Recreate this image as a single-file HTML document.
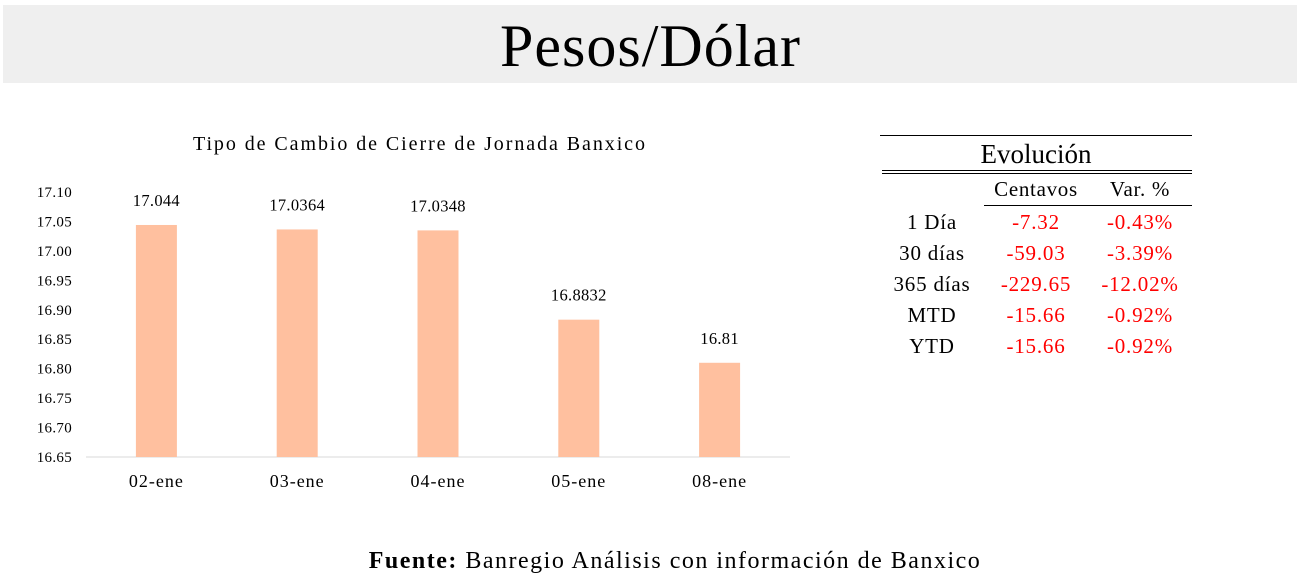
<!DOCTYPE html>
<html><head><meta charset="utf-8"><style>
body{margin:0;width:1301px;height:582px;background:#fff;overflow:hidden;position:relative;font-family:"Liberation Serif",serif;}
.abs{position:absolute;}
</style></head><body>
<div class="abs" style="left:3px;top:5px;width:1294px;height:78px;background:#efefef;"></div>
<div class="abs" style="left:0;top:10px;width:1301px;text-align:center;font-size:60px;line-height:72px;color:#000;letter-spacing:1px;">Pesos/Dólar</div>

<svg class="abs" style="left:0;top:0" width="860" height="520">
<text x="193" y="150" textLength="452" lengthAdjust="spacing" font-size="20" font-family="Liberation Serif">Tipo de Cambio de Cierre de Jornada Banxico</text>
<g id="g"></g>
</svg>
<script>
const categories=["02-ene","03-ene","04-ene","05-ene","08-ene"];
const values=[17.044,17.0364,17.0348,16.8832,16.81];
const valueLabels=["17.044","17.0364","17.0348","16.8832","16.81"];
const yTicks=[16.65,16.70,16.75,16.80,16.85,16.90,16.95,17.00,17.05,17.10];
const NS="http://www.w3.org/2000/svg";
const g=document.getElementById('g');
const x0=86,x1=790,yMin=16.65,yMax=17.10,py0=457,py1=192;
const y=v=>py0-(v-yMin)/(yMax-yMin)*(py0-py1);
const band=(x1-x0)/categories.length;
const xc=i=>x0+band*(i+0.5);
function el(t,a){const e=document.createElementNS(NS,t);for(const k in a)e.setAttribute(k,a[k]);g.appendChild(e);return e;}
yTicks.forEach(v=>{const t=el('text',{x:72,y:y(v)+5,'text-anchor':'end','font-size':15,'letter-spacing':0.3,'font-family':'Liberation Serif'});t.textContent=v.toFixed(2);

});
const ax=el('line',{x1:x0,x2:x1,y1:py0,y2:py0,stroke:'#d9d9d9','stroke-width':1});


values.forEach((v,i)=>{const b=el('rect',{x:xc(i)-20.5,y:y(v),width:41,height:py0-y(v),fill:'#ffc09f'});


const l=el('text',{x:xc(i),y:y(v)-19,'text-anchor':'middle','font-size':16.5,'letter-spacing':0.3,'font-family':'Liberation Serif'});l.textContent=valueLabels[i];


const c=el('text',{x:xc(i),y:487,'text-anchor':'middle','font-size':18,'letter-spacing':1,'font-family':'Liberation Serif'});c.textContent=categories[i];

});
</script>

<div>
<div class="abs" style="left:880px;top:135px;width:312px;border-top:1px solid #000;"></div>
<div class="abs" style="left:880px;top:139px;width:312px;text-align:center;font-size:27px;line-height:30px;">Evolución</div>
<div class="abs" style="left:882px;top:170px;width:310px;height:2px;border-top:1px solid #000;border-bottom:1px solid #000;"></div>
<div class="abs" style="left:984px;top:205px;width:208px;border-top:1px solid #000;"></div>
<div class="abs" style="left:984px;top:177px;width:104px;text-align:center;font-size:21px;letter-spacing:0.7px;">Centavos</div>
<div class="abs" style="left:1088px;top:177px;width:104px;text-align:center;font-size:21px;letter-spacing:0.7px;">Var. %</div>
<div id="rows"></div>
</div>
<script>
const rowLabels=["1 Día","30 días","365 días","MTD","YTD"];
const cent=["-7.32","-59.03","-229.65","-15.66","-15.66"];
const pct=["-0.43%","-3.39%","-12.02%","-0.92%","-0.92%"];
const R=document.getElementById('rows');
rowLabels.forEach((r,i)=>{const top=209+i*31;
[[880,104,r,'#000'],[984,104,cent[i],'#f00'],[1088,104,pct[i],'#f00']].forEach(([l,w,t,c],j)=>{
const d=document.createElement('div');d.className='abs';
d.style.cssText=`left:${l}px;top:${top}px;width:${w}px;text-align:center;font-size:21px;letter-spacing:0.8px;line-height:26px;color:${c}`;
d.textContent=t;


R.appendChild(d);});});
</script>
<div class="abs" style="left:0;top:546px;width:1350px;text-align:center;font-size:24px;line-height:30px;letter-spacing:1.5px;"><b>Fuente:</b> Banregio Análisis con información de Banxico</div>
</body></html>
